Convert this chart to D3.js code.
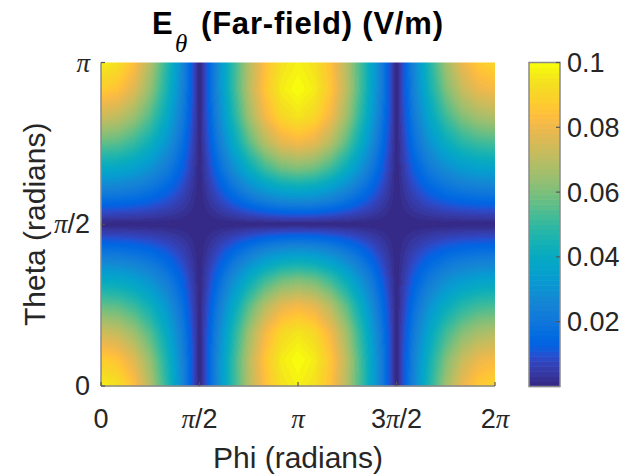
<!DOCTYPE html>
<html><head><meta charset="utf-8">
<script src="https://cdn.jsdelivr.net/npm/d3@7"></script>
<style>body{margin:0;background:#fff} svg{display:block}</style>
</head><body>
<svg id="chart" width="623" height="476"></svg>
<script>
const PI = Math.PI;

// ---- data ----
// grid angles (radians): phi every pi/12 from 0 to 2pi, theta every pi/12 from 0 to pi
const phiGrid = d3.range(25).map(k => k * PI / 12);
const thetaGrid = d3.range(13).map(j => j * PI / 12);
// |E_theta| (V/m), one row per theta value (row 0 = theta 0), one column per phi value
const eThetaRows = [
  [0.0972,0.0939,0.0842,0.0687,0.0486,0.0252,0,0.0252,0.0486,0.0687,0.0842,0.0939,0.0972,0.0939,0.0842,0.0687,0.0486,0.0252,0,0.0244,0.0467,0.0653,0.0791,0.0873,0.0904],
  [0.0878,0.0850,0.0768,0.0634,0.0454,0.0239,0,0.0247,0.0485,0.0694,0.0859,0.0964,0.1000,0.0964,0.0859,0.0694,0.0485,0.0247,0,0.0232,0.0436,0.0602,0.0722,0.0791,0.0817],
  [0.0737,0.0715,0.0650,0.0543,0.0395,0.0211,0,0.0225,0.0447,0.0648,0.0808,0.0911,0.0947,0.0911,0.0808,0.0648,0.0447,0.0225,0,0.0205,0.0379,0.0516,0.0611,0.0665,0.0685],
  [0.0566,0.0551,0.0504,0.0425,0.0313,0.0170,0,0.0186,0.0374,0.0547,0.0686,0.0777,0.0809,0.0777,0.0686,0.0547,0.0374,0.0186,0,0.0165,0.0300,0.0404,0.0474,0.0512,0.0526],
  [0.0381,0.0371,0.0342,0.0291,0.0217,0.0119,0,0.0133,0.0269,0.0396,0.0500,0.0568,0.0591,0.0568,0.0500,0.0396,0.0269,0.0133,0,0.0115,0.0208,0.0276,0.0321,0.0345,0.0354],
  [0.0191,0.0186,0.0172,0.0148,0.0111,0.0061,0,0.0069,0.0141,0.0208,0.0263,0.0300,0.0312,0.0300,0.0263,0.0208,0.0141,0.0069,0,0.0059,0.0107,0.0141,0.0162,0.0173,0.0178],
  [0,0,0,0,0,0,0,0,0,0,0,0,0,0,0,0,0,0,0,0,0,0,0,0,0],
  [0.0191,0.0186,0.0172,0.0148,0.0111,0.0061,0,0.0069,0.0141,0.0208,0.0263,0.0300,0.0312,0.0300,0.0263,0.0208,0.0141,0.0069,0,0.0059,0.0107,0.0141,0.0162,0.0173,0.0178],
  [0.0381,0.0371,0.0342,0.0291,0.0217,0.0119,0,0.0133,0.0269,0.0396,0.0500,0.0568,0.0591,0.0568,0.0500,0.0396,0.0269,0.0133,0,0.0115,0.0208,0.0276,0.0321,0.0345,0.0354],
  [0.0566,0.0551,0.0504,0.0425,0.0313,0.0170,0,0.0186,0.0374,0.0547,0.0686,0.0777,0.0809,0.0777,0.0686,0.0547,0.0374,0.0186,0,0.0165,0.0300,0.0404,0.0474,0.0512,0.0526],
  [0.0737,0.0715,0.0650,0.0543,0.0395,0.0211,0,0.0225,0.0447,0.0648,0.0808,0.0911,0.0947,0.0911,0.0808,0.0648,0.0447,0.0225,0,0.0205,0.0379,0.0516,0.0611,0.0665,0.0685],
  [0.0878,0.0850,0.0768,0.0634,0.0454,0.0239,0,0.0247,0.0485,0.0694,0.0859,0.0964,0.1000,0.0964,0.0859,0.0694,0.0485,0.0247,0,0.0232,0.0436,0.0602,0.0722,0.0791,0.0817],
  [0.0972,0.0939,0.0842,0.0687,0.0486,0.0252,0,0.0252,0.0486,0.0687,0.0842,0.0939,0.0972,0.0939,0.0842,0.0687,0.0486,0.0252,0,0.0244,0.0467,0.0653,0.0791,0.0873,0.0904]
];
const phiTicks = [0, PI/2, PI, 3*PI/2, 2*PI];
const phiTickLabels = ["0", "π/2", "π", "3π/2", "2π"];
const thetaTicks = [0, PI/2, PI];
const thetaTickLabels = ["0", "π/2", "π"];
const colorLimits = [0, 0.1];
const colorbarTicks = [0.02, 0.04, 0.06, 0.08, 0.1];
const colorbarTickLabels = ["0.02", "0.04", "0.06", "0.08", "0.1"];

// ---- parula colormap (64 levels) ----
const parula = [
[0.2081,0.1663,0.5292],[0.2116,0.1898,0.5777],[0.2123,0.2138,0.6270],[0.2081,0.2386,0.6771],
[0.1959,0.2645,0.7279],[0.1707,0.2919,0.7792],[0.1253,0.3242,0.8303],[0.0591,0.3598,0.8683],
[0.0117,0.3875,0.8820],[0.0060,0.4086,0.8828],[0.0165,0.4266,0.8786],[0.0329,0.4430,0.8720],
[0.0498,0.4586,0.8641],[0.0629,0.4737,0.8554],[0.0723,0.4887,0.8467],[0.0779,0.5040,0.8384],
[0.0793,0.5200,0.8312],[0.0749,0.5375,0.8263],[0.0641,0.5570,0.8240],[0.0488,0.5772,0.8228],
[0.0343,0.5966,0.8199],[0.0265,0.6137,0.8135],[0.0239,0.6287,0.8038],[0.0231,0.6418,0.7913],
[0.0228,0.6535,0.7768],[0.0267,0.6642,0.7607],[0.0384,0.6743,0.7436],[0.0590,0.6838,0.7254],
[0.0843,0.6928,0.7062],[0.1133,0.7015,0.6859],[0.1453,0.7098,0.6646],[0.1801,0.7177,0.6424],
[0.2178,0.7250,0.6193],[0.2586,0.7317,0.5954],[0.3022,0.7376,0.5712],[0.3482,0.7424,0.5473],
[0.3953,0.7459,0.5244],[0.4420,0.7481,0.5033],[0.4871,0.7491,0.4840],[0.5300,0.7491,0.4661],
[0.5709,0.7485,0.4494],[0.6099,0.7473,0.4337],[0.6473,0.7456,0.4188],[0.6834,0.7435,0.4044],
[0.7184,0.7411,0.3905],[0.7525,0.7384,0.3768],[0.7858,0.7356,0.3633],[0.8185,0.7327,0.3498],
[0.8507,0.7299,0.3360],[0.8824,0.7274,0.3217],[0.9139,0.7258,0.3063],[0.9450,0.7261,0.2886],
[0.9739,0.7314,0.2666],[0.9938,0.7455,0.2403],[0.9990,0.7653,0.2164],[0.9955,0.7861,0.1967],
[0.9880,0.8066,0.1794],[0.9789,0.8271,0.1633],[0.9697,0.8481,0.1475],[0.9626,0.8705,0.1309],
[0.9589,0.8949,0.1132],[0.9598,0.9218,0.0948],[0.9661,0.9514,0.0755],[0.9763,0.9831,0.0538]
].map(c => d3.rgb(c[0]*255, c[1]*255, c[2]*255));

const svg = d3.select("#chart");
const sansFont = "'Liberation Sans', Arial, Helvetica, sans-serif";
const serifFont = "'Liberation Serif', 'DejaVu Serif', serif";
const textColor = "#262626";
const axisColor = "#8a8a8a";

const x = d3.scaleLinear().domain([0, 2*PI]).range([101, 495]);
const y = d3.scaleLinear().domain([0, PI]).range([386, 62.5]);
const colorIndex = d3.scaleQuantize().domain(colorLimits).range(d3.range(parula.length));
const yc = d3.scaleLinear().domain(colorLimits).range([386.5, 62.5]);

// ---- heatmap with interpolated shading ----
(function drawField(){
  const x0 = x(0), x1 = x(2*PI), y0 = y(PI), y1 = y(0);
  const cw = Math.round(x1 - x0), ch = Math.round(y1 - y0);
  const canvas = document.createElement("canvas");
  canvas.width = cw; canvas.height = ch;
  const ctx = canvas.getContext("2d");
  const img = ctx.createImageData(cw, ch);
  const nP = phiGrid.length, nT = thetaGrid.length;
  const gp = d3.scaleLinear().domain([phiGrid[0], phiGrid[nP-1]]).range([0, nP-1]).clamp(true);
  const gt = d3.scaleLinear().domain([thetaGrid[0], thetaGrid[nT-1]]).range([0, nT-1]).clamp(true);
  for (let py = 0; py < ch; py++) {
    const th = y.invert(y0 + py + 0.5);
    const ft = gt(th); const j0 = Math.min(Math.floor(ft), nT-2); const tt = ft - j0;
    for (let px = 0; px < cw; px++) {
      const ph = x.invert(x0 + px + 0.5);
      const fp = gp(ph); const k0 = Math.min(Math.floor(fp), nP-2); const tp = fp - k0;
      const a = eThetaRows[j0][k0], b = eThetaRows[j0][k0+1];
      const c = eThetaRows[j0+1][k0], d = eThetaRows[j0+1][k0+1];
      const v = (a*(1-tp) + b*tp)*(1-tt) + (c*(1-tp) + d*tp)*tt;
      const col = parula[colorIndex(v)];
      const i = (py*cw + px)*4;
      img.data[i] = col.r; img.data[i+1] = col.g; img.data[i+2] = col.b; img.data[i+3] = 255;
    }
  }
  ctx.putImageData(img, 0, 0);
  svg.append("image")
    .attr("x", x0).attr("y", y0).attr("width", cw).attr("height", ch)
    .attr("preserveAspectRatio", "none")
    .attr("href", canvas.toDataURL());
})();

// ---- axes ----
const g = svg.append("g");
g.append("line").attr("x1", x(0)).attr("x2", x(2*PI)).attr("y1", y(0)).attr("y2", y(0))
  .attr("stroke", axisColor).attr("stroke-width", 1.5);
g.append("line").attr("x1", x(0)).attr("x2", x(0)).attr("y1", y(0)).attr("y2", y(PI))
  .attr("stroke", axisColor).attr("stroke-width", 1.5);

phiTicks.forEach(t => {
  g.append("line").attr("x1", x(t)).attr("x2", x(t)).attr("y1", y(0)).attr("y2", y(0) - 4)
    .attr("stroke", "#555").attr("stroke-width", 1.2);
});
thetaTicks.forEach(t => {
  g.append("line").attr("x1", x(0)).attr("x2", x(0) + 4).attr("y1", y(t)).attr("y2", y(t))
    .attr("stroke", "#555").attr("stroke-width", 1.2);
});

function piLabel(sel, label) {
  label.split(/(π)/).filter(s => s.length).forEach(part => {
    const ts = sel.append("tspan").text(part);
    if (part === "π") ts.attr("font-family", serifFont).attr("font-style", "italic");
  });
}

phiTicks.forEach((t, i) => {
  const tx = g.append("text").attr("x", x(t)).attr("y", 428)
    .attr("text-anchor", "middle").attr("font-family", sansFont).attr("font-size", 27)
    .attr("fill", textColor);
  piLabel(tx, phiTickLabels[i]);
});
thetaTicks.forEach((t, i) => {
  const tx = g.append("text").attr("x", 90).attr("y", y(t) + 9)
    .attr("text-anchor", "end").attr("font-family", sansFont).attr("font-size", 27)
    .attr("fill", textColor);
  piLabel(tx, thetaTickLabels[i]);
});

// axis labels
g.append("text").attr("x", (x(0) + x(2*PI)) / 2).attr("y", 468)
  .attr("text-anchor", "middle").attr("font-family", sansFont).attr("font-size", 30)
  .attr("fill", textColor).text("Phi (radians)");
g.append("text").attr("transform", `translate(45,${(y(0) + y(PI)) / 2}) rotate(-90)`)
  .attr("text-anchor", "middle").attr("font-family", sansFont).attr("font-size", 30)
  .attr("fill", textColor).text("Theta (radians)");

// title
const title = svg.append("g").attr("fill", "#000");
title.append("text").attr("x", 152).attr("y", 34).attr("font-family", sansFont)
  .attr("font-weight", "bold").attr("font-size", 31).text("E");
title.append("text").attr("x", 175).attr("y", 52).attr("font-family", serifFont)
  .attr("font-style", "italic").attr("font-size", 25).text("θ");
title.append("text").attr("x", 201).attr("y", 34).attr("font-family", sansFont)
  .attr("font-weight", "bold").attr("font-size", 31)
  .attr("textLength", 242).attr("lengthAdjust", "spacing").text("(Far-field) (V/m)");

// ---- colorbar ----
const cb = svg.append("g");
const cbX = 529, cbW = 31;
const binW = (colorLimits[1] - colorLimits[0]) / parula.length;
cb.selectAll("rect.bin").data(parula).join("rect").attr("class", "bin")
  .attr("x", cbX).attr("width", cbW)
  .attr("y", (d, i) => yc(colorLimits[0] + (i+1)*binW))
  .attr("height", (d, i) => yc(colorLimits[0] + i*binW) - yc(colorLimits[0] + (i+1)*binW) + 0.6)
  .attr("fill", d => d.toString());
cb.append("rect").attr("x", cbX).attr("y", yc(colorLimits[1])).attr("width", cbW)
  .attr("height", yc(colorLimits[0]) - yc(colorLimits[1]))
  .attr("fill", "none").attr("stroke", axisColor).attr("stroke-width", 1.5);
colorbarTicks.forEach((t, i) => {
  cb.append("line").attr("x1", cbX + cbW).attr("x2", cbX + cbW - 4).attr("y1", yc(t)).attr("y2", yc(t))
    .attr("stroke", "#555").attr("stroke-width", 1.2);
  cb.append("text").attr("x", 567).attr("y", yc(t) + 9.5).attr("font-family", sansFont)
    .attr("font-size", 27).attr("fill", textColor).text(colorbarTickLabels[i]);
});
</script>
</body></html>
